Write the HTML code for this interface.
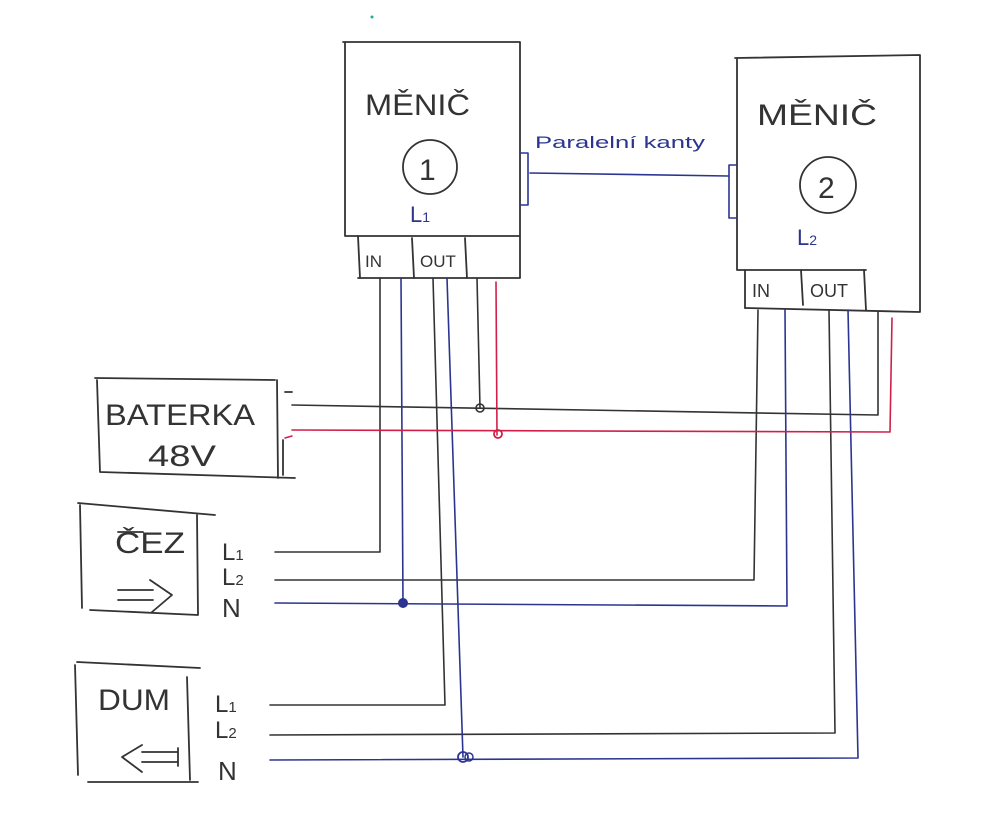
<!DOCTYPE html>
<html><head><meta charset="utf-8"><style>
html,body{margin:0;padding:0;background:#fff;}
svg{display:block;}
text{font-family:"Liberation Sans",sans-serif;}
</style></head><body>
<svg width="1000" height="835" viewBox="0 0 1000 835" xmlns="http://www.w3.org/2000/svg">
<g fill="none" stroke-linecap="round" stroke-linejoin="round">
<!-- Menic 1 -->
<g stroke="#333" stroke-width="1.8">
<path d="M343 42 L520 42 L520 278 L358 278 M345 42 L345 236 L520 236"/>
<path d="M358 236 L360 278 M412 238 L414 278 M465 238 L467 278"/>
</g>
<circle cx="430" cy="167" r="27" stroke="#333" stroke-width="1.8"/>
<!-- Menic 2 -->
<g stroke="#333" stroke-width="1.8">
<path d="M735 58 L920 55 L920 312 L745 308 M737 58 L737 270 L866 270"/>
<path d="M745 270 L745 308 M801 270 L803 305 M864 270 L866 310"/>
</g>
<circle cx="828" cy="185" r="28" stroke="#333" stroke-width="1.8"/>
<!-- parallel link -->
<g stroke="#2b3590" stroke-width="1.6">
<path d="M520 153 L528 153 L528 205 L520 205"/>
<path d="M737 165 L729 165 L729 218 L737 218"/>
<path d="M530 173 L728 176"/>
</g>
<!-- Battery box -->
<g stroke="#333" stroke-width="1.8">
<path d="M95 378 L275 380 M97 380 L100 472 L295 478 M277 380 L278 478 M283 440 L283 475"/>
<path d="M285 392 L292 392"/>
</g>
<path d="M285 438 L292 436" stroke="#d0204a" stroke-width="1.5"/>
<!-- CEZ box -->
<g stroke="#333" stroke-width="1.8">
<path d="M78 503 L215 515 M80 505 L82 608 M197 515 L198 615 M90 610 L198 615"/>
<path d="M118 590 L153 590 M118 600 L153 600 M150 580 L172 595 L152 612"/>
<path d="M118 532 L143 532"/>
</g>
<!-- DUM box -->
<g stroke="#333" stroke-width="1.8">
<path d="M77 662 L200 668 M75 665 L78 775 M187 677 L190 780 M88 782 L198 782"/>
<path d="M178 752 L142 752 M178 762 L142 762 M142 745 L122 757 L142 772 M178 748 L178 766"/>
</g>
<!-- Black wires -->
<g stroke="#333" stroke-width="1.6">
<path d="M380 278 L380 552 L275 552"/>
<path d="M433 278 L445 705 L270 705"/>
<path d="M477 278 L480 408"/>
<path d="M292 405 L878 415 L878 312"/>
<path d="M758 310 L754 580 L275 580"/>
<path d="M829 310 L835 733 L270 735"/>
</g>
<!-- Blue wires -->
<g stroke="#2b3590" stroke-width="1.6">
<path d="M401 278 L403 603"/>
<path d="M447 278 L463 757"/>
<path d="M275 603 L787 606 L785 310"/>
<path d="M270 760 L858 758 L848 310"/>
</g>
<!-- Red wires -->
<g stroke="#d0204a" stroke-width="1.6">
<path d="M496 282 L497 435"/>
<path d="M292 430 L890 432 L892 318"/>
</g>
<!-- junctions -->
<circle cx="480" cy="408" r="4" stroke="#333" stroke-width="1.6"/>
<circle cx="498" cy="434" r="4" stroke="#d0204a" stroke-width="1.8"/>
<circle cx="403" cy="603" r="4" stroke="#2b3590" stroke-width="2" fill="#2b3590"/>
<circle cx="463" cy="757" r="5" stroke="#2b3590" stroke-width="1.8"/>
<circle cx="469" cy="757" r="4" stroke="#2b3590" stroke-width="1.5"/>
</g>
<g fill="#333" font-size="30">
<text x="365" y="115" textLength="105" lengthAdjust="spacingAndGlyphs">MĚNIČ</text>
<text x="757" y="125" textLength="120" lengthAdjust="spacingAndGlyphs">MĚNIČ</text>
<text x="419" y="180" font-size="30">1</text>
<text x="818" y="198" font-size="30">2</text>
<text x="105" y="425" textLength="150" lengthAdjust="spacingAndGlyphs">BATERKA</text>
<text x="148" y="466" textLength="68" lengthAdjust="spacingAndGlyphs">48V</text>
<text x="115" y="553" textLength="70" lengthAdjust="spacingAndGlyphs">ČEZ</text>
<text x="98" y="710" textLength="72" lengthAdjust="spacingAndGlyphs">DUM</text>
<text x="365" y="267" font-size="17">IN</text>
<text x="420" y="267" font-size="17">OUT</text>
<text x="752" y="297" font-size="18">IN</text>
<text x="810" y="297" font-size="18">OUT</text>
<text x="222" y="560" font-size="24">L<tspan font-size="15">1</tspan></text>
<text x="222" y="585" font-size="24">L<tspan font-size="15">2</tspan></text>
<text x="222" y="617" font-size="26">N</text>
<text x="215" y="712" font-size="24">L<tspan font-size="15">1</tspan></text>
<text x="215" y="738" font-size="24">L<tspan font-size="15">2</tspan></text>
<text x="218" y="780" font-size="26">N</text>
</g>
<g fill="#2b3590">
<text x="410" y="222" font-size="22">L<tspan font-size="14">1</tspan></text>
<text x="797" y="245" font-size="22">L<tspan font-size="14">2</tspan></text>
<text x="535" y="148" font-size="17" textLength="170" lengthAdjust="spacingAndGlyphs">Paralelní kanty</text>
</g>
<circle cx="372" cy="17" r="1.5" fill="#2a9"/>
</svg>
</body></html>
